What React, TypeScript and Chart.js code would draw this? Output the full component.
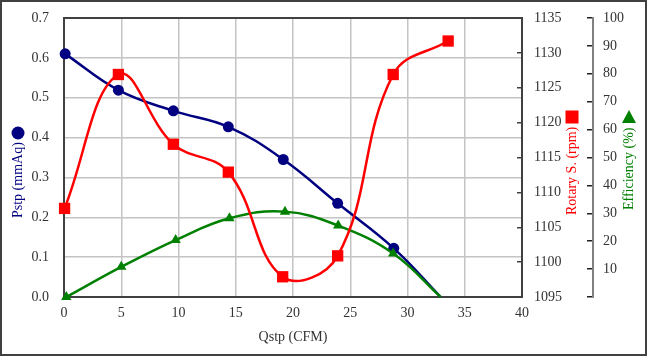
import React, { useEffect, useRef } from 'react';
import { Chart, registerables } from 'chart.js';

Chart.register(...registerables);

// Static pressure series (mmAq) vs Qstp (CFM)
const pstpQ = [0.1, 4.75, 9.55, 14.35, 19.15, 23.9, 28.8, 32.9];
const pstpValues = [0.61, 0.519, 0.467, 0.427, 0.345, 0.235, 0.122, 0.0];

// Rotary speed series (rpm)
const rpmQ = [0.05, 4.75, 9.55, 14.35, 19.1, 23.9, 28.75, 33.55];
const rpmValues = [1107.7, 1126.9, 1116.9, 1112.9, 1097.9, 1100.9, 1126.9, 1131.7];

// Efficiency series (%)
const effQ = [0.2, 5.0, 9.75, 14.45, 19.3, 23.95, 28.75, 32.9];
const effValues = [0, 10.8, 20.4, 28.2, 30.6, 25.6, 15.6, 0];

const xTitle = 'Qstp (CFM)';
const pstpTitle = 'Pstp (mmAq)';
const rpmTitle = 'Rotary S. (rpm)';
const effTitle = 'Efficiency (%)';

const FONT = "'Liberation Serif', 'Times New Roman', serif";
const NAVY = '#000080';
const RED = '#ff0000';
const GREEN = '#008000';
const TICK_COLOR = '#333333';
const GRID = '#c4c4c4';

const decorPlugin = {
  id: 'decor',
  beforeDatasetsDraw(chart: any) {
    const { ctx, chartArea } = chart;
    ctx.save();
    ctx.strokeStyle = '#404040';
    ctx.lineWidth = 2;
    ctx.strokeRect(chartArea.left, chartArea.top, chartArea.right - chartArea.left, chartArea.bottom - chartArea.top);
    ctx.restore();
  },
  afterDraw(chart: any) {
    const { ctx, width, height } = chart;
    ctx.save();
    // outer frame
    ctx.strokeStyle = '#404040';
    ctx.lineWidth = 2;
    ctx.strokeRect(1, 1, width - 2, height - 2);

    ctx.font = `14px ${FONT}`;
    ctx.textBaseline = 'middle';
    ctx.textAlign = 'left';
    const vText = (text: string, x: number, y: number, color: string) => {
      ctx.save();
      ctx.translate(x, y);
      ctx.rotate(-Math.PI / 2);
      ctx.fillStyle = color;
      ctx.fillText(text, 0, 0);
      ctx.restore();
    };
    // Pstp title + circle marker
    vText(pstpTitle, 18, 218, NAVY);
    ctx.fillStyle = NAVY;
    ctx.beginPath();
    ctx.arc(18, 133, 6.5, 0, Math.PI * 2);
    ctx.fill();
    // Rotary title + square
    vText(rpmTitle, 572, 215, RED);
    ctx.fillStyle = RED;
    ctx.fillRect(572 - 6.5, 117 - 6.5, 13, 13);
    // Efficiency title + triangle
    vText(effTitle, 629, 210, GREEN);
    ctx.fillStyle = GREEN;
    ctx.beginPath();
    ctx.moveTo(629, 110);
    ctx.lineTo(629 - 7, 123);
    ctx.lineTo(629 + 7, 123);
    ctx.closePath();
    ctx.fill();
    ctx.restore();
  },
};

const fitV = (w: number) => (s: any) => {
  s.width = w;
  s.paddingTop = 0;
  s.paddingBottom = 0;
};

export default function App() {
  const ref = useRef<HTMLCanvasElement | null>(null);

  useEffect(() => {
    if (!ref.current) return;
    const tickFont = { family: FONT, size: 14 };
    const chart = new Chart(ref.current, {
      type: 'line',
      data: {
        datasets: [
          {
            label: 'Rotary S.',
            data: rpmQ.map((q, i) => ({ x: q, y: rpmValues[i] })),
            yAxisID: 'rpm',
            borderColor: RED,
            backgroundColor: RED,
            borderWidth: 2.5,
            pointStyle: 'rect',
            pointRadius: 8,
            pointBorderWidth: 0,
            tension: 0.4,
            clip: false,
          },
          {
            label: 'Efficiency',
            data: effQ.map((q, i) => ({ x: q, y: effValues[i] })),
            yAxisID: 'eff',
            borderColor: GREEN,
            backgroundColor: GREEN,
            borderWidth: 2.5,
            pointStyle: 'triangle',
            pointRadius: effValues.map((_, i) => (i === effValues.length - 1 ? 0 : 6)),
            pointBorderWidth: 0,
            tension: 0.4,
            clip: false,
          },
          {
            label: 'Pstp',
            data: pstpQ.map((q, i) => ({ x: q, y: pstpValues[i] })),
            yAxisID: 'y',
            borderColor: NAVY,
            backgroundColor: NAVY,
            borderWidth: 2.5,
            pointStyle: 'circle',
            pointRadius: pstpValues.map((_, i) => (i === pstpValues.length - 1 ? 0 : 5.5)),
            pointBorderWidth: 0,
            tension: 0.4,
            clip: false,
          },
        ],
      },
      options: {
        responsive: false,
        animation: false,
        events: [],
        layout: { padding: { top: 18, left: 0, right: 0, bottom: 0 } },
        plugins: { legend: { display: false }, tooltip: { enabled: false } },
        scales: {
          x: {
            type: 'linear',
            min: 0,
            max: 40,
            ticks: { stepSize: 5, color: TICK_COLOR, font: tickFont, padding: 8, maxRotation: 0 },
            grid: { color: GRID, lineWidth: 1.5, drawTicks: false },
            border: { display: false },
            title: { display: true, text: xTitle, color: TICK_COLOR, font: tickFont, padding: { top: 0, bottom: 10 } },
            afterFit: (s: any) => { s.height = 59; s.paddingLeft = 0; s.paddingRight = 0; },
          },
          y: {
            type: 'linear',
            position: 'left',
            min: 0,
            max: 0.7,
            ticks: { stepSize: 0.1, color: TICK_COLOR, font: tickFont, padding: 15, callback: (v: any) => Number(v).toFixed(1) },
            grid: { color: GRID, lineWidth: 1.5, drawTicks: false },
            border: { display: false },
            afterFit: fitV(64),
          },
          rpm: {
            type: 'linear',
            position: 'right',
            min: 1095,
            max: 1135,
            ticks: { stepSize: 5, color: TICK_COLOR, font: tickFont, padding: 17, callback: (v: any) => String(v) },
            grid: { drawOnChartArea: false, drawTicks: true, tickLength: -5, color: '#404040', lineWidth: 1.5 },
            border: { display: false },
            afterFit: fitV(71),
          },
          eff: {
            type: 'linear',
            position: 'right',
            min: 0,
            max: 100,
            ticks: { stepSize: 10, color: TICK_COLOR, font: tickFont, padding: 16, callback: (v: any) => (Number(v) === 0 ? '' : String(v)) },
            grid: { drawOnChartArea: false, drawTicks: true, tickLength: -6, color: '#202020', lineWidth: 1.5 },
            border: { display: true, color: '#808080', width: 2 },
            afterFit: fitV(54),
          },
        },
      } as any,
      plugins: [decorPlugin],
    });
    return () => chart.destroy();
  }, []);

  return (
    <div style={{ position: 'absolute', left: 0, top: 0, width: 647, height: 356, background: '#ffffff' }}>
      <canvas ref={ref} width={647} height={356} style={{ display: 'block' }} />
    </div>
  );
}
